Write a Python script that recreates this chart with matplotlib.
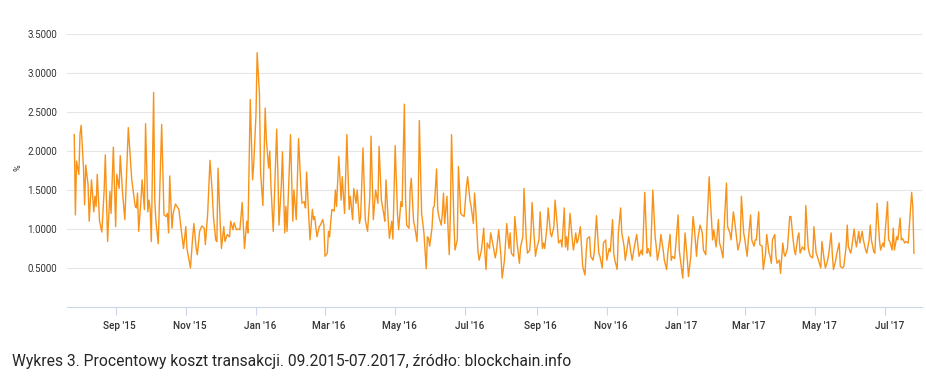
import numpy as np
import pandas as pd
import matplotlib
matplotlib.use("Agg")
import matplotlib.pyplot as plt
import matplotlib.dates as mdates
import matplotlib.transforms as mtransforms

START = "2015-09-01"
days = [
 -36,-35,-34,-32,-31,-30,-28,-27,-26,-24,-23,-21,-19,-18,-17,-16,-14,-12,-10,-9,-7,-5,-4,-2,
 0,1,3,4,6,8,11,14,17,18,19,20,22,23,25,26,28,29,30,31,33,34,35,37,40,42,44,45,46,47,49,50,
 52,55,57,59,61,62,65,67,68,70,71,73,75,77,78,80,
 82,84,85,87,88,89,91,92,94,95,97,99,100,102,103,105,107,108,110,112,114,115,117,119,120,122,
 123,125,126,128,130,131,133,134,135,137,140,141,142,144,145,147,148,149,152,154,155,157,159,
 161,162,164,165,166,168,169,171,172,173,174,175,177,178,180,181,182,184,185,186,187,188,190,
 191,192,194,196,197,199,201,203,
 204,206,207,209,210,212,213,215,217,219,221,222,224,226,228,229,231,233,234,235,237,238,240,
 241,243,245,246,248,249,251,252,253,255,256,257,259,260,262,263,264,266,268,270,271,272,273,
 275,276,277,279,280,281,283,284,285,286,288,289,290,291,292,294,295,297,298,300,301,303,305,
 306,308,309,311,312,313,315,316,318,320,321,322,
 323,325,326,328,330,331,333,335,336,338,340,342,343,344,346,347,349,351,352,354,355,357,358,
 360,361,362,364,365,366,368,369,371,372,373,375,376,378,379,381,382,384,385,387,388,390,391,
 392,393,395,397,398,400,401,402,404,405,406,408,409,410,412,413,415,416,418,420,421,423,424,
 426,427,429,430,432,433,434,436,437,439,440,442,443,444,446,
 448,449,450,452,453,455,457,458,460,462,463,465,467,469,470,471,473,474,476,477,479,480,482,
 483,484,486,489,490,491,493,494,495,497,498,500,502,503,505,506,508,510,511,513,514,516,517,
 519,520,522,524,525,526,528,529,531,532,534,535,537,538,540,541,543,544,546,547,549,550,552,
 553,555,556,557,559,560,562,563,565,566,
 568,569,570,571,573,574,575,577,578,580,581,582,584,586,587,589,590,591,593,594,595,597,599,
 600,602,603,604,606,607,609,610,611,613,614,616,617,619,620,622,623,624,626,627,629,630,632,
 633,635,636,637,639,640,642,643,644,646,647,649,650,652,653,655,656,657,659,660,662,664,665,
 667,668,671,672,673,675,676,677,679,680,682,683,684,686,687,689,690,692,693,694,
]
values = [
 2.21,1.18,1.87,1.70,2.21,2.33,1.80,1.31,1.82,1.57,1.10,1.63,1.22,1.42,1.29,1.70,1.10,0.96,1.50,1.95,0.84,1.48,1.20,2.05,
 1.03,1.70,1.52,1.94,1.46,1.12,2.30,1.63,1.29,1.27,1.46,0.97,1.37,1.63,1.25,2.35,1.22,1.37,1.25,0.84,2.75,1.37,1.10,0.81,2.34,1.18,1.16,1.20,0.95,1.68,1.01,1.20,
 1.32,1.25,0.99,0.75,1.03,0.75,0.50,0.90,1.07,0.75,0.67,0.97,1.04,1.01,0.80,1.20,
 1.88,1.46,1.16,0.86,0.84,1.78,1.03,0.75,1.03,0.84,0.93,0.90,1.10,0.99,1.08,0.99,1.00,0.99,1.34,0.75,1.10,0.95,2.66,1.63,1.82,2.47,
 3.26,2.73,1.72,1.30,2.55,2.15,1.78,2.00,1.55,0.97,2.28,1.72,1.05,1.55,1.99,0.95,1.29,0.97,2.21,1.10,1.50,1.12,2.16,
 1.55,1.33,1.35,1.27,1.73,1.12,0.86,1.25,1.12,1.16,1.03,0.90,1.03,1.05,1.12,1.05,0.65,0.69,0.97,0.90,1.10,1.25,1.23,
 1.50,1.29,1.93,1.37,1.67,1.20,2.21,1.25,
 1.42,1.12,1.52,1.33,1.50,1.07,1.16,2.04,1.12,0.97,1.42,2.19,1.12,1.50,1.33,2.06,1.37,1.20,1.10,1.63,1.10,0.88,1.10,
 0.87,2.07,1.20,0.99,1.35,1.29,2.60,1.40,1.05,1.01,1.50,1.65,1.10,1.03,0.84,1.29,2.39,1.20,0.95,0.49,0.90,0.88,0.78,
 1.01,1.27,1.29,1.77,1.25,1.16,1.05,1.20,1.46,1.07,1.42,0.99,0.67,1.20,2.21,1.12,0.73,0.86,1.80,1.20,1.18,1.16,1.55,
 1.67,1.37,1.29,1.07,1.46,1.27,0.71,0.60,0.73,1.01,0.69,0.48,
 0.82,0.75,0.95,0.80,0.63,0.71,0.99,0.65,0.37,0.60,1.07,0.75,0.95,0.69,0.65,1.16,0.82,0.56,0.77,0.90,1.52,0.86,0.69,
 0.73,0.95,1.34,0.86,0.65,0.75,0.86,1.22,0.75,0.82,0.75,1.03,1.27,0.95,0.90,1.03,1.37,1.03,0.82,0.86,0.77,1.27,0.77,
 0.90,0.73,1.20,0.86,0.73,0.95,0.82,0.86,1.03,0.77,0.52,0.41,0.69,0.88,0.90,0.65,0.60,0.69,1.17,0.69,0.65,0.50,0.82,
 0.86,0.60,0.75,0.71,1.12,0.69,0.60,0.48,0.95,1.27,0.95,0.78,0.60,0.69,0.90,
 0.69,0.60,0.69,0.86,0.93,0.65,0.73,0.67,1.47,0.69,0.75,0.65,1.50,0.90,0.77,0.60,0.77,0.93,0.73,0.60,0.48,0.69,0.93,
 0.60,0.65,0.62,1.18,0.73,0.60,0.37,0.65,0.95,0.60,0.39,0.65,1.16,1.03,0.65,0.86,1.05,0.95,0.73,0.67,1.03,1.67,1.37,
 0.86,0.99,0.77,1.12,0.82,0.77,0.63,1.03,1.59,1.03,0.95,0.86,1.22,1.12,0.86,0.73,0.86,1.42,0.95,0.86,0.65,0.86,1.18,
 0.86,0.78,0.86,0.86,1.22,0.80,0.78,0.48,0.69,0.93,
 0.69,0.65,0.56,0.86,0.93,0.65,0.56,0.60,0.43,0.82,0.69,0.65,0.75,1.16,1.16,0.86,0.73,0.67,0.90,0.95,0.69,0.77,0.73,
 1.30,0.77,0.69,0.65,0.63,1.03,0.69,0.65,0.60,0.50,0.84,0.60,0.50,0.60,0.69,0.95,0.69,0.48,0.60,0.69,0.82,0.52,0.50,
 0.52,0.77,1.05,0.77,0.69,0.77,1.00,0.86,0.77,0.97,0.82,0.97,0.86,0.73,0.69,0.86,1.05,0.86,0.71,0.69,1.33,0.86,0.73,
 0.82,0.77,1.35,0.86,0.84,0.73,1.01,0.73,0.90,0.86,1.14,0.86,0.88,0.82,0.84,0.82,1.03,1.47,1.29,0.69,
]
y_ticks = [0.5, 1.0, 1.5, 2.0, 2.5, 3.0, 3.5]
y_label = "%"
caption = "Wykres 3. Procentowy koszt transakcji. 09.2015-07.2017, źródło: blockchain.info"

assert len(days) == len(values)
dates = pd.Timestamp(START) + pd.to_timedelta(days, unit="D")

plt.rcParams['font.family'] = ['Roboto', 'DejaVu Sans']
fig = plt.figure(figsize=(9.26, 3.76), dpi=100)
ax = fig.add_axes([67/926, 69/376, (922-67)/926, (307-34)/376])

ax.plot(dates, values, color="#f7931a", lw=1.0, solid_joinstyle="round")

ax.set_ylim(0, 3.5)
ax.set_xlim(pd.Timestamp(START) - pd.Timedelta(days=42.3), pd.Timestamp(START) + pd.Timedelta(days=701))
ax.set_yticks(y_ticks)
ax.set_yticklabels([f"{v:.4f}" for v in y_ticks])
ax.yaxis.grid(True, color="#e6e6e6", lw=0.8)
ax.set_axisbelow(True)
ax.tick_params(axis="y", length=0, pad=7, labelsize=7, labelcolor="#333333")

ax.xaxis.set_major_locator(mdates.MonthLocator(bymonth=[1, 3, 5, 7, 9, 11]))
ax.xaxis.set_major_formatter(mdates.DateFormatter("%b '%y"))
ax.tick_params(axis="x", length=6, width=0.8, color="#ccd6eb", pad=4, labelsize=7.2, labelcolor="#333333")
shift = mtransforms.ScaledTranslation(4/100, 0, fig.dpi_scale_trans)
for lab in ax.get_xticklabels():
    lab.set_transform(lab.get_transform() + shift)
    lab.set_fontweight("medium")

for s in ["top", "right", "left"]:
    ax.spines[s].set_visible(False)
ax.spines["bottom"].set_color("#ccd6eb")
ax.spines["bottom"].set_linewidth(0.8)

fig.text(18/926, 1 - 168/376, y_label, rotation=90, ha="center", va="center", fontsize=6.5, color="#333333")
fig.text(12/926, 1 - 361/376, caption, ha="left", va="center", fontsize=11.25, color="#262626")

fig.savefig("out.png", dpi=100)
